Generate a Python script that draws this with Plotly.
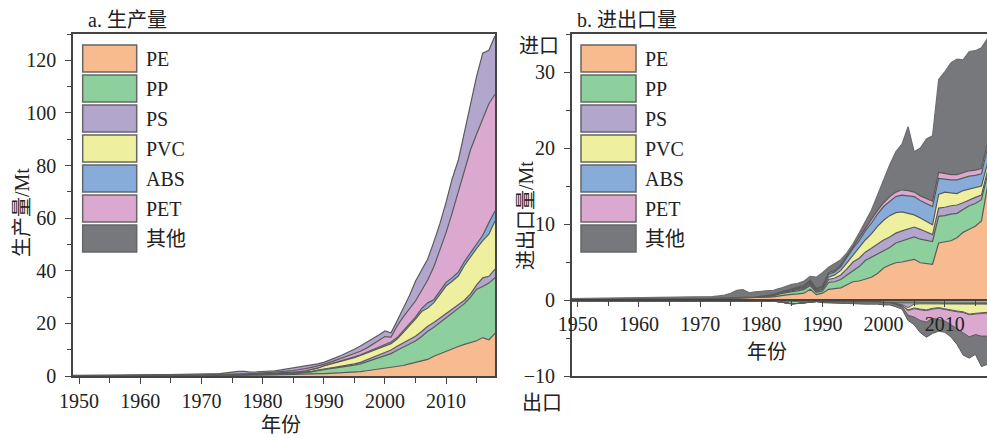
import plotly.graph_objects as go

# ---------------------------------------------------------------- data
years = list(range(1949, 2019))
names = ["PE", "PP", "PS", "PVC", "ABS", "PET", "其他"]

# a. 生产量 (Mt), one value per year 1949-2018
prod_pe = [0.02, 0.02, 0.03, 0.03, 0.04, 0.04, 0.05, 0.05, 0.06, 0.06, 0.07,
           0.08, 0.08, 0.09, 0.09, 0.10, 0.10, 0.11, 0.12, 0.12, 0.13,
           0.14, 0.15, 0.16, 0.18, 0.20, 0.22, 0.24, 0.26, 0.28, 0.30,
           0.32, 0.35, 0.38, 0.42, 0.46, 0.50, 0.55, 0.62, 0.70, 0.80,
           0.9, 1.0, 1.1, 1.25, 1.4, 1.5, 1.7, 2.0, 2.3, 2.7,
           3.0, 3.3, 3.6, 4.0, 4.6, 5.1, 5.7, 6.3, 7.5, 8.5,
           9.5, 10.3, 11.2, 12.0, 12.8, 13.4, 14.6, 13.8, 16.2]
prod_pp = [0.01, 0.01, 0.01, 0.01, 0.01, 0.01, 0.01, 0.01, 0.01, 0.01, 0.01,
           0.01, 0.01, 0.01, 0.02, 0.02, 0.02, 0.02, 0.03, 0.03, 0.03,
           0.04, 0.05, 0.06, 0.07, 0.08, 0.10, 0.12, 0.14, 0.16, 0.20,
           0.23, 0.25, 0.30, 0.34, 0.40, 0.48, 0.55, 0.68, 0.90, 1.2,
           1.6, 1.8, 2.0, 2.15, 2.4, 2.6, 2.9, 3.4, 3.9, 4.2,
           4.6, 5.2, 6.2, 7.0, 7.5, 8.2, 9.3, 10.7, 11.0, 11.8,
           12.7, 13.7, 14.4, 15.5, 17.2, 19.6, 19.4, 21.5, 21.2]
prod_ps = [0.01, 0.01, 0.01, 0.01, 0.01, 0.01, 0.01, 0.01, 0.01, 0.01, 0.01,
           0.01, 0.01, 0.01, 0.01, 0.01, 0.01, 0.01, 0.01, 0.01, 0.01,
           0.02, 0.02, 0.03, 0.03, 0.04, 0.05, 0.05, 0.06, 0.07, 0.08,
           0.10, 0.10, 0.10, 0.11, 0.12, 0.12, 0.13, 0.15, 0.15, 0.20,
           0.2, 0.25, 0.3, 0.35, 0.4, 0.5, 0.6, 0.7, 0.8, 1.0,
           1.3, 1.4, 1.5, 1.6, 1.7, 1.8, 1.9, 1.9, 1.8, 1.7,
           1.6, 1.4, 1.4, 1.3, 1.2, 1.6, 3.3, 2.6, 3.2]
prod_pvc = [0.02, 0.02, 0.02, 0.02, 0.03, 0.03, 0.03, 0.03, 0.04, 0.04, 0.05,
            0.05, 0.05, 0.05, 0.06, 0.06, 0.07, 0.07, 0.08, 0.08, 0.09,
            0.10, 0.10, 0.11, 0.12, 0.13, 0.14, 0.15, 0.16, 0.17, 0.18,
            0.20, 0.25, 0.27, 0.30, 0.32, 0.35, 0.42, 0.50, 0.65, 0.80,
            1.1, 1.35, 1.6, 1.85, 2.1, 2.4, 2.6, 2.6, 2.6, 2.6,
            2.5, 2.4, 2.7, 3.9, 5.2, 6.5, 7.6, 6.9, 7.6, 9.0,
            10.4, 10.6, 11.0, 13.2, 14.3, 13.9, 14.2, 16.0, 18.3]
prod_abs = [0.0, 0.0, 0.0, 0.0, 0.0, 0.0, 0.0, 0.0, 0.0, 0.0, 0.0,
            0.0, 0.0, 0.0, 0.0, 0.0, 0.0, 0.0, 0.0, 0.0, 0.0,
            0.01, 0.01, 0.01, 0.01, 0.02, 0.02, 0.02, 0.03, 0.03, 0.04,
            0.05, 0.05, 0.05, 0.05, 0.06, 0.05, 0.05, 0.05, 0.06, 0.06,
            0.08, 0.1, 0.12, 0.15, 0.2, 0.25, 0.3, 0.35, 0.4, 0.5,
            0.6, 0.6, 0.6, 0.6, 0.7, 0.8, 1.1, 2.0, 1.1, 1.2,
            1.4, 1.4, 1.5, 1.5, 1.5, 2.0, 2.0, 4.4, 3.8]
prod_pet = [0.02, 0.02, 0.02, 0.02, 0.03, 0.03, 0.03, 0.03, 0.04, 0.04, 0.04,
            0.05, 0.05, 0.05, 0.06, 0.06, 0.06, 0.07, 0.07, 0.08, 0.08,
            0.09, 0.10, 0.11, 0.12, 0.13, 0.15, 0.17, 0.19, 0.21, 0.23,
            0.25, 0.25, 0.30, 0.38, 0.49, 0.60, 0.70, 0.80, 0.84, 0.74,
            0.52, 0.7, 0.88, 1.05, 1.1, 1.15, 1.3, 1.55, 2.0, 2.6,
            3.0, 1.9, 4.4, 5.4, 5.8, 6.1, 6.9, 8.7, 12.5, 15.8,
            18.9, 24.6, 30.5, 34.5, 39.0, 41.5, 44.0, 45.2, 44.4]
prod_other = [0.15, 0.15, 0.16, 0.17, 0.17, 0.18, 0.19, 0.2, 0.2, 0.21, 0.22,
              0.22, 0.23, 0.24, 0.24, 0.25, 0.26, 0.27, 0.28, 0.29, 0.3,
              0.31, 0.32, 0.34, 0.4, 0.6, 0.9, 1.0, 0.9, 0.55, 0.5,
              0.45, 0.55, 0.6, 0.7, 0.85, 0.9, 0.9, 0.9, 0.8, 0.8,
              0.8, 0.8, 1.0, 1.2, 1.4, 1.8, 2.0, 2.1, 2.2, 2.0,
              2.1, 1.6, 2.0, 3.0, 5.0, 7.5, 7.5, 8.0, 9.5, 10.0,
              11.5, 13.0, 12.0, 15.0, 17.0, 22.0, 25.2, 20.3, 22.2]

# b. 进口量 (Mt)
imp_pe = [0.10, 0.10, 0.10, 0.10, 0.11, 0.11, 0.11, 0.12, 0.12, 0.12, 0.13,
          0.13, 0.13, 0.14, 0.14, 0.14, 0.15, 0.15, 0.15, 0.16, 0.16,
          0.17, 0.17, 0.18, 0.19, 0.20, 0.22, 0.24, 0.24, 0.25, 0.27,
          0.3, 0.35, 0.4, 0.55, 0.7, 0.75, 0.8, 0.9, 1.4, 0.7,
          0.9, 1.4, 1.5, 1.6, 2.0, 2.4, 2.5, 2.7, 3.0, 3.5,
          4.2, 4.6, 4.9, 5.0, 5.2, 5.35, 4.9, 4.75, 4.7, 7.5,
          7.7, 7.8, 8.2, 8.9, 9.3, 9.7, 10.4, 15.0, 16.0]
imp_pp = [0.0, 0.0, 0.0, 0.0, 0.0, 0.0, 0.0, 0.0, 0.0, 0.0, 0.0,
          0.0, 0.0, 0.0, 0.0, 0.0, 0.0, 0.0, 0.0, 0.0, 0.0,
          0.01, 0.01, 0.02, 0.02, 0.03, 0.03, 0.04, 0.04, 0.05, 0.06,
          0.08, 0.1, 0.15, 0.25, 0.3, 0.35, 0.4, 0.5, 0.5, 0.3,
          0.3, 0.9, 0.9, 1.1, 1.3, 1.5, 1.9, 2.5, 2.6, 2.5,
          2.2, 2.3, 2.6, 2.8, 2.9, 2.95, 3.1, 3.05, 3.0, 3.5,
          3.4, 3.5, 3.2, 3.0, 3.1, 3.0, 2.8, 1.5, 1.5]
imp_ps = [0.0, 0.0, 0.0, 0.0, 0.0, 0.0, 0.0, 0.0, 0.0, 0.0, 0.0,
          0.0, 0.0, 0.0, 0.0, 0.0, 0.0, 0.0, 0.0, 0.0, 0.0,
          0.01, 0.01, 0.01, 0.01, 0.01, 0.01, 0.01, 0.01, 0.01, 0.01,
          0.02, 0.03, 0.04, 0.05, 0.08, 0.1, 0.15, 0.15, 0.2, 0.15,
          0.2, 0.4, 0.5, 0.6, 0.8, 1.1, 1.1, 1.1, 1.2, 1.4,
          1.5, 1.4, 1.3, 1.3, 1.3, 1.3, 1.3, 1.1, 0.9, 1.1,
          1.1, 1.1, 1.1, 0.9, 0.8, 0.8, 0.6, 0.5, 0.5]
imp_pvc = [0.01, 0.01, 0.01, 0.01, 0.01, 0.01, 0.01, 0.01, 0.01, 0.01, 0.01,
           0.01, 0.01, 0.01, 0.01, 0.01, 0.01, 0.01, 0.01, 0.01, 0.01,
           0.01, 0.01, 0.02, 0.02, 0.02, 0.03, 0.03, 0.03, 0.04, 0.04,
           0.05, 0.05, 0.06, 0.07, 0.08, 0.09, 0.1, 0.1, 0.15, 0.1,
           0.15, 0.3, 0.4, 0.6, 0.8, 0.9, 1.3, 1.6, 1.9, 2.3,
           2.6, 2.8, 2.7, 2.5, 2.0, 1.6, 1.5, 1.4, 1.3, 1.8,
           2.0, 1.7, 1.5, 1.6, 1.4, 1.3, 1.2, 1.0, 1.0]
imp_abs = [0.0, 0.0, 0.0, 0.0, 0.0, 0.0, 0.0, 0.0, 0.0, 0.0, 0.0,
           0.0, 0.0, 0.0, 0.0, 0.0, 0.0, 0.0, 0.0, 0.0, 0.0,
           0.0, 0.0, 0.0, 0.0, 0.0, 0.0, 0.0, 0.0, 0.0, 0.0,
           0.02, 0.03, 0.04, 0.05, 0.06, 0.08, 0.15, 0.15, 0.2, 0.15,
           0.15, 0.4, 0.4, 0.5, 0.7, 0.9, 1.0, 1.2, 1.4, 1.6,
           1.8, 1.9, 2.1, 2.2, 2.3, 2.4, 2.3, 2.4, 2.4, 2.1,
           1.7, 1.7, 1.8, 1.7, 1.7, 1.6, 1.6, 2.0, 2.0]
imp_pet = [0.0, 0.0, 0.0, 0.0, 0.0, 0.0, 0.0, 0.0, 0.0, 0.0, 0.0,
           0.0, 0.0, 0.0, 0.0, 0.0, 0.0, 0.0, 0.0, 0.0, 0.0,
           0.0, 0.0, 0.0, 0.0, 0.0, 0.0, 0.0, 0.0, 0.0, 0.0,
           0.03, 0.03, 0.04, 0.05, 0.06, 0.08, 0.1, 0.1, 0.15, 0.1,
           0.15, 0.2, 0.2, 0.2, 0.2, 0.2, 0.3, 0.3, 0.4, 0.5,
           0.5, 0.6, 0.6, 0.7, 0.7, 0.6, 0.6, 0.7, 0.7, 0.8,
           0.7, 0.7, 0.7, 0.7, 0.7, 0.7, 0.7, 0.8, 1.0]
imp_other = [0.08, 0.09, 0.09, 0.1, 0.1, 0.1, 0.11, 0.11, 0.12, 0.12, 0.12,
             0.13, 0.13, 0.14, 0.14, 0.15, 0.15, 0.16, 0.16, 0.17, 0.17,
             0.18, 0.2, 0.22, 0.3, 0.4, 0.6, 0.95, 1.05, 0.6, 0.7,
             0.65, 0.6, 0.55, 0.5, 0.5, 0.6, 0.5, 0.6, 0.5, 1.5,
             1.75, 0.7, 0.9, 0.7, 0.4, 0.4, 0.7, 0.9, 1.3, 2.0,
             3.0, 4.2, 5.3, 6.0, 8.4, 5.3, 6.3, 7.8, 8.6, 12.2,
             13.4, 14.7, 15.2, 14.8, 15.7, 15.7, 15.9, 13.6, 13.0]

# b. 出口量 (Mt, drawn below zero)
exp_pe = [0.12, 0.12, 0.12, 0.12, 0.12, 0.12, 0.12, 0.12, 0.12, 0.12, 0.12,
          0.12, 0.12, 0.12, 0.12, 0.12, 0.12, 0.12, 0.12, 0.12, 0.12,
          0.13, 0.13, 0.13, 0.13, 0.13, 0.13, 0.13, 0.13, 0.13, 0.13,
          0.15, 0.15, 0.15, 0.15, 0.15, 0.15, 0.15, 0.15, 0.15, 0.15,
          0.2, 0.2, 0.2, 0.2, 0.2, 0.2, 0.2, 0.2, 0.2, 0.2,
          0.25, 0.25, 0.25, 0.25, 0.25, 0.25, 0.25, 0.25, 0.25, 0.25,
          0.3, 0.3, 0.3, 0.3, 0.3, 0.3, 0.3, 0.3, 0.3]
exp_pp = [0.0, 0.0, 0.0, 0.0, 0.0, 0.0, 0.0, 0.0, 0.0, 0.0, 0.0,
          0.0, 0.0, 0.0, 0.0, 0.0, 0.0, 0.0, 0.0, 0.0, 0.0,
          0.0, 0.0, 0.0, 0.0, 0.0, 0.0, 0.0, 0.0, 0.0, 0.0,
          0.0, 0.0, 0.0, 0.1, 0.25, 0.35, 0.3, 0.2, 0.1, 0.05,
          0.05, 0.05, 0.05, 0.05, 0.05, 0.05, 0.05, 0.05, 0.05, 0.05,
          0.1, 0.1, 0.15, 0.15, 0.15, 0.15, 0.15, 0.15, 0.15, 0.15,
          0.15, 0.15, 0.15, 0.15, 0.15, 0.15, 0.15, 0.15, 0.15]
exp_ps = [0.0, 0.0, 0.0, 0.0, 0.0, 0.0, 0.0, 0.0, 0.0, 0.0, 0.0,
          0.0, 0.0, 0.0, 0.0, 0.0, 0.0, 0.0, 0.0, 0.0, 0.0,
          0.0, 0.0, 0.0, 0.0, 0.0, 0.0, 0.0, 0.0, 0.0, 0.0,
          0.0, 0.0, 0.0, 0.0, 0.0, 0.0, 0.0, 0.0, 0.0, 0.0,
          0.0, 0.0, 0.0, 0.0, 0.0, 0.0, 0.0, 0.0, 0.0, 0.0,
          0.0, 0.0, 0.05, 0.2, 0.6, 0.15, 0.1, 0.1, 0.1, 0.1,
          0.1, 0.1, 0.1, 0.1, 0.1, 0.1, 0.1, 0.1, 0.1]
exp_pvc = [0.0, 0.0, 0.0, 0.0, 0.0, 0.0, 0.0, 0.0, 0.0, 0.0, 0.0,
           0.0, 0.0, 0.0, 0.0, 0.0, 0.0, 0.0, 0.0, 0.0, 0.0,
           0.0, 0.0, 0.0, 0.0, 0.0, 0.0, 0.0, 0.0, 0.0, 0.0,
           0.0, 0.0, 0.0, 0.0, 0.0, 0.0, 0.0, 0.0, 0.0, 0.0,
           0.0, 0.0, 0.0, 0.0, 0.0, 0.0, 0.0, 0.0, 0.0, 0.0,
           0.0, 0.0, 0.05, 0.1, 0.3, 0.5, 0.7, 0.8, 0.6, 0.5,
           0.6, 0.8, 0.9, 1.0, 1.3, 1.2, 1.1, 1.1, 1.0]
exp_abs = [0.0, 0.0, 0.0, 0.0, 0.0, 0.0, 0.0, 0.0, 0.0, 0.0, 0.0,
           0.0, 0.0, 0.0, 0.0, 0.0, 0.0, 0.0, 0.0, 0.0, 0.0,
           0.0, 0.0, 0.0, 0.0, 0.0, 0.0, 0.0, 0.0, 0.0, 0.0,
           0.0, 0.0, 0.0, 0.0, 0.0, 0.0, 0.0, 0.0, 0.0, 0.0,
           0.0, 0.0, 0.0, 0.0, 0.0, 0.0, 0.0, 0.0, 0.0, 0.0,
           0.0, 0.0, 0.05, 0.05, 0.1, 0.1, 0.1, 0.1, 0.1, 0.1,
           0.1, 0.1, 0.1, 0.1, 0.1, 0.1, 0.1, 0.1, 0.1]
exp_pet = [0.0, 0.0, 0.0, 0.0, 0.0, 0.0, 0.0, 0.0, 0.0, 0.0, 0.0,
           0.0, 0.0, 0.0, 0.0, 0.0, 0.0, 0.0, 0.0, 0.0, 0.0,
           0.0, 0.0, 0.0, 0.0, 0.0, 0.0, 0.0, 0.0, 0.0, 0.0,
           0.0, 0.0, 0.0, 0.0, 0.0, 0.0, 0.0, 0.0, 0.0, 0.0,
           0.0, 0.0, 0.0, 0.0, 0.0, 0.0, 0.0, 0.0, 0.0, 0.0,
           0.0, 0.0, 0.05, 0.1, 0.6, 1.1, 1.4, 1.5, 1.2, 1.5,
           1.5, 1.8, 2.2, 2.6, 2.9, 2.7, 3.0, 3.0, 3.0]
exp_other = [0.02, 0.02, 0.02, 0.02, 0.02, 0.02, 0.02, 0.02, 0.02, 0.02, 0.02,
             0.02, 0.02, 0.02, 0.02, 0.02, 0.02, 0.02, 0.02, 0.02, 0.02,
             0.02, 0.02, 0.02, 0.02, 0.02, 0.02, 0.02, 0.02, 0.02, 0.02,
             0.02, 0.02, 0.02, 0.02, 0.02, 0.02, 0.02, 0.02, 0.02, 0.02,
             0.1, 0.15, 0.15, 0.2, 0.2, 0.25, 0.25, 0.3, 0.3, 0.3,
             0.3, 0.3, 0.3, 0.35, 0.7, 1.0, 1.6, 2.0, 2.0, 1.5,
             1.5, 1.6, 2.1, 3.0, 2.8, 2.6, 4.0, 3.7, 4.0]

production = [prod_pe, prod_pp, prod_ps, prod_pvc, prod_abs, prod_pet, prod_other]
imports = [imp_pe, imp_pp, imp_ps, imp_pvc, imp_abs, imp_pet, imp_other]
exports = [exp_pe, exp_pp, exp_ps, exp_pvc, exp_abs, exp_pet, exp_other]
for series in production + imports + exports:
    assert len(series) == len(years)

# ---------------------------------------------------------------- style
colors = ["#F7BB8F", "#8DD09E", "#B2A6CC", "#EEF09F", "#87ACDA", "#DBA9CF", "#77787B"]
prod_colors = colors[:6] + ["#B2A6CC"]
edge = "#5a5a5a"
axis_col = "#444444"
FONT = "Liberation Serif, 'Noto Sans CJK SC', serif"
FS = 20

W, H = 987, 438
ML, MR, MT, MB = 73, 0, 34, 62
PW, PH = W - ML - MR, H - MT - MB


def px(x):
    return (x - ML) / PW


def py(y):
    return (H - MB - y) / PH


x_a0, x_a1 = 73, 495
x_b0 = 571.7
yrs_per_px = (2018 - 1949) / (x_a1 - x_a0)
x_b_end = 1949 + (W - x_b0) * yrs_per_px

fig = go.Figure()

for name, vals, col in zip(names, production, prod_colors):
    fig.add_trace(go.Scatter(x=years, y=vals, name=name, mode="lines",
                             stackgroup="prod", fillcolor=col,
                             line=dict(color=edge, width=1.2),
                             xaxis="x", yaxis="y", showlegend=False))

for i, (name, vals, col) in enumerate(zip(names, imports, colors)):
    fig.add_trace(go.Scatter(x=years, y=vals, name=name + "进口", mode="lines",
                             stackgroup="imp", fillcolor=col,
                             line=dict(color="#6e6e70" if i == 6 else edge, width=1.2),
                             xaxis="x2", yaxis="y2", showlegend=False))

for name, vals, col in zip(names, exports, colors):
    fig.add_trace(go.Scatter(x=years, y=[-v for v in vals], name=name + "出口",
                             mode="lines", stackgroup="exp", fillcolor=col,
                             line=dict(color=edge, width=1.0),
                             xaxis="x2", yaxis="y2", showlegend=False))

# empty trace so the year axis drawn through y = 0 in panel b is rendered
fig.add_trace(go.Scatter(x=[], y=[], xaxis="x3", yaxis="y2", showlegend=False,
                         hoverinfo="skip"))

tickfont = dict(family=FONT, size=FS, color="#222")
common = dict(showgrid=False, zeroline=False, showline=True, linecolor=axis_col,
              linewidth=1.5, ticks="outside", tickcolor=axis_col, tickwidth=1.2,
              ticklen=6, tickfont=tickfont)

fig.update_layout(
    width=W, height=H,
    margin=dict(l=ML, r=MR, t=MT, b=MB),
    paper_bgcolor="white", plot_bgcolor="white",
    font=dict(family=FONT, size=FS, color="#222"),
    showlegend=False,
    xaxis=dict(domain=[0, px(x_a1)], range=[1949, 2018], anchor="y", mirror=True,
               tick0=1950, dtick=10,
               minor=dict(dtick=5, tick0=1950, ticks="outside", ticklen=5,
                          tickcolor=axis_col, tickwidth=1.2),
               **common),
    yaxis=dict(domain=[0, 1], range=[0, 130], anchor="x", mirror=True,
               tick0=0, dtick=20, ticklabelstandoff=5,
               minor=dict(dtick=10, ticks="outside", ticklen=4,
                          tickcolor=axis_col, tickwidth=1.2),
               **common),
    xaxis2=dict(domain=[px(x_b0), 1], range=[1949, x_b_end], anchor="y2",
                mirror=True, showgrid=False, zeroline=False, showline=True,
                linecolor=axis_col, linewidth=1.5, ticks="", showticklabels=False),
    yaxis2=dict(domain=[0, 1], range=[-10, 35], anchor="x2", mirror=False,
                tick0=0, dtick=10, ticklabelstandoff=5,
                minor=dict(dtick=5, ticks="outside", ticklen=4,
                           tickcolor=axis_col, tickwidth=1.2),
                **common),
    xaxis3=dict(overlaying="x2", anchor="free", position=10 / 45, side="bottom",
                range=[1949, x_b_end], tick0=1950, dtick=10,
                minor=dict(dtick=5, tick0=1950, ticks="outside", ticklen=5,
                           tickcolor=axis_col, tickwidth=1.2),
                **common),
)

# panel titles, axis titles and import / export markers
texts = [
    ("a. 生产量", 86, 20, "left", 0),
    ("b. 进出口量", 575, 20, "left", 0),
    ("生产量/Mt", 22, 213, "center", -90),
    ("进出口量/Mt", 526, 216, "center", -90),
    ("年份", 281, 425, "center", 0),
    ("年份", 767, 352, "center", 0),
    ("进口", 539, 46, "center", 0),
    ("出口", 542, 403, "center", 0),
]
annotations = []
for txt, x, y, anchor, ang in texts:
    annotations.append(dict(text=txt, x=px(x), y=py(y), xref="paper", yref="paper",
                            xanchor=anchor, yanchor="middle", showarrow=False,
                            textangle=ang,
                            font=dict(family=FONT, size=FS, color="#222")))

# legend boxes for both panels
shapes = []
for box_x0, box_x1, text_x, cols in [(82.7, 136.7, 144, prod_colors[:6] + [colors[6]]),
                                     (581, 636, 642.7, colors)]:
    for i, (name, col) in enumerate(zip(names, cols)):
        top = 45 + 30 * i
        shapes.append(dict(type="rect", xref="paper", yref="paper",
                           x0=px(box_x0), x1=px(box_x1), y0=py(top + 27), y1=py(top),
                           fillcolor=col, line=dict(color="#666", width=1.5)))
        annotations.append(dict(text=name, x=px(text_x), y=py(top + 14), xref="paper",
                                yref="paper", xanchor="left", yanchor="middle",
                                showarrow=False,
                                font=dict(family=FONT, size=FS, color="#222")))

fig.update_layout(annotations=annotations, shapes=shapes)

fig.write_html("out.html", config={"displayModeBar": False})
